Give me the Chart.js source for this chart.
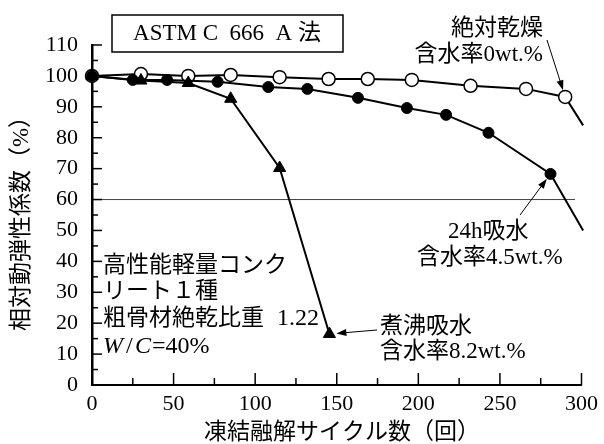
<!DOCTYPE html>
<html>
<head>
<meta charset="utf-8">
<script src="https://cdn.jsdelivr.net/npm/chart.js@4.4.1/dist/chart.umd.min.js"></script>
<style>body{margin:0;background:#fff}</style>
</head>
<body>
<canvas id="chart" width="604" height="444"></canvas>
<script>
// 絶対乾燥 (含水率0wt.%)
var dryX = [0, 30, 59, 85, 115, 145, 169, 196, 232, 266, 290, 301];
var dryY = [100, 100.6, 100, 100.3, 99.6, 99.0, 99.0, 98.7, 96.8, 95.8, 93.2, 84];
// 24h吸水 (含水率4.5wt.%)
var wetX = [0, 25, 46, 77, 108, 132, 163, 193, 217, 243, 281, 301];
var wetY = [100, 98.7, 98.7, 98.1, 96.4, 95.8, 92.9, 89.6, 87.4, 81.6, 68.3, 50];
// 煮沸吸水 (含水率8.2wt.%)
var boilX = [0, 30, 59, 85, 115, 145.5];
var boilY = [100, 98.5, 97.7, 92.6, 70.2, 16.5];

var xTicks = [0, 50, 100, 150, 200, 250, 300];
var yTicks = [0, 10, 20, 30, 40, 50, 60, 70, 80, 90, 100, 110];

var FONT = "'Liberation Serif', 'Noto Sans CJK JP', serif";

function pts(xs, ys) {
    return xs.map(function (x, i) { return { x: x, y: ys[i] }; });
}
function radii(n, r) {
    var a = [];
    for (var i = 0; i < n; i++) a.push(i === n - 1 ? 0 : r);
    return a;
}

function arrow(ctx, x1, y1, x2, y2) {
    var ang = Math.atan2(y2 - y1, x2 - x1);
    ctx.beginPath();
    ctx.moveTo(x1, y1);
    ctx.lineTo(x2 - 8 * Math.cos(ang), y2 - 8 * Math.sin(ang));
    ctx.lineWidth = 1;
    ctx.stroke();
    ctx.beginPath();
    ctx.moveTo(x2, y2);
    ctx.lineTo(x2 - 10 * Math.cos(ang) + 3.5 * Math.sin(ang), y2 - 10 * Math.sin(ang) - 3.5 * Math.cos(ang));
    ctx.lineTo(x2 - 10 * Math.cos(ang) - 3.5 * Math.sin(ang), y2 - 10 * Math.sin(ang) + 3.5 * Math.cos(ang));
    ctx.closePath();
    ctx.fill();
}

// arrow pointing at a data point, stopping at the marker edge
function arrowTo(ctx, xs, ys, x1, y1, px, py, r) {
    var tx = xs.getPixelForValue(px), ty = ys.getPixelForValue(py);
    var d = Math.hypot(tx - x1, ty - y1);
    arrow(ctx, x1, y1, tx - (tx - x1) / d * r, ty - (ty - y1) / d * r);
}

var decor = {
    id: 'decor',
    beforeDatasetsDraw: function (chart) {
        var ctx = chart.ctx, xs = chart.scales.x, ys = chart.scales.y;
        ctx.save();
        // 60% reference line
        ctx.lineWidth = 1;
        ctx.strokeStyle = '#444';
        ctx.beginPath();
        ctx.moveTo(xs.getPixelForValue(0), ys.getPixelForValue(60));
        ctx.lineTo(xs.getPixelForValue(296), ys.getPixelForValue(60));
        ctx.stroke();
        // inward ticks
        ctx.strokeStyle = '#000';
        ctx.lineWidth = 1.5;
        var x0 = xs.getPixelForValue(0), y0 = ys.getPixelForValue(0);
        for (var v = 5; v <= 110; v += 5) {
            var y = ys.getPixelForValue(v);
            ctx.beginPath();
            ctx.moveTo(x0, y);
            ctx.lineTo(x0 + (v % 10 === 0 ? 10 : 6), y);
            ctx.stroke();
        }
        for (var u = 25; u <= 300; u += 25) {
            var x = xs.getPixelForValue(u);
            ctx.beginPath();
            ctx.moveTo(x, y0);
            ctx.lineTo(x, y0 - (u % 50 === 0 ? 12 : 7));
            ctx.stroke();
        }
        ctx.restore();
    },
    afterDraw: function (chart) {
        var ctx = chart.ctx, xs = chart.scales.x, ys = chart.scales.y;
        ctx.save();
        ctx.fillStyle = '#000';
        ctx.strokeStyle = '#000';
        ctx.font = '23px ' + FONT;
        ctx.textBaseline = 'middle';

        // method box
        ctx.fillStyle = '#fff';
        ctx.fillRect(112, 15, 231, 37);
        ctx.fillStyle = '#000';
        ctx.lineWidth = 1.5;
        ctx.strokeRect(112, 15, 231, 37);
        ctx.textAlign = 'center';
        ctx.fillText('ASTM C  666  A 法', 227, 34);

        // axis titles
        ctx.fillText('凍結融解サイクル数（回）', 342, 433);
        ctx.save();
        ctx.translate(22, 218);
        ctx.rotate(-Math.PI / 2);
        ctx.fillText('相対動弾性係数（%）', 0, 0);
        ctx.restore();

        // series labels
        ctx.textAlign = 'right';
        ctx.fillText('絶対乾燥', 543, 29);
        ctx.fillText('含水率0wt.%', 543, 55);
        ctx.textAlign = 'left';
        ctx.fillText('24h吸水', 448, 232);
        ctx.fillText('含水率4.5wt.%', 417, 258);
        ctx.fillText('煮沸吸水', 380, 327);
        ctx.fillText('含水率8.2wt.%', 380, 352);

        // material note
        ctx.fillText('高性能軽量コンク', 103, 266);
        ctx.fillText('リート１種', 103, 292);
        ctx.fillText('粗骨材絶乾比重', 103, 319);
        ctx.font = '24px ' + FONT;
        ctx.fillText('1.22', 277, 319);
        ctx.font = 'italic 24px ' + FONT;
        ctx.fillText('W', 103, 347);
        ctx.fillText('C', 135, 347);
        ctx.font = '24px ' + FONT;
        ctx.fillText('/', 126, 347);
        ctx.fillText('=40%', 152, 347);

        // arrows
        arrowTo(ctx, xs, ys, 547, 40, dryX[10], dryY[10], 7);
        arrowTo(ctx, xs, ys, 520, 215, wetX[10], wetY[10], 6);
        arrowTo(ctx, xs, ys, 377, 330, boilX[5], boilY[5], 7);
        ctx.restore();
    }
};

var ctx = document.getElementById('chart').getContext('2d');
var chart = new Chart(ctx, {
    type: 'scatter',
    data: {
        datasets: [{
            label: '煮沸吸水',
            data: pts(boilX, boilY),
            showLine: true,
            borderColor: '#000',
            backgroundColor: '#000',
            borderWidth: 2,
            pointStyle: 'triangle',
            pointRadius: 7,
            pointBorderWidth: 1,
            clip: false
        }, {
            label: '24h吸水',
            data: pts(wetX, wetY),
            showLine: true,
            borderColor: '#000',
            backgroundColor: '#000',
            borderWidth: 2,
            pointRadius: radii(wetX.length, 5.5),
            pointBorderWidth: 1,
            clip: false
        }, {
            label: '絶対乾燥',
            data: pts(dryX, dryY),
            showLine: true,
            borderColor: '#000',
            backgroundColor: '#fff',
            borderWidth: 2,
            pointRadius: radii(dryX.length, 6.5),
            pointBorderWidth: 1.5,
            clip: false
        }]
    },
    options: {
        responsive: false,
        animation: false,
        layout: { padding: { top: 45, right: 21, left: 0, bottom: 0 } },
        plugins: { legend: { display: false }, tooltip: { enabled: false } },
        scales: {
            x: {
                type: 'linear', min: 0, max: 300,
                afterBuildTicks: function (s) { s.ticks = xTicks.map(function (v) { return { value: v }; }); },
                afterFit: function (s) { s.height = 59; },
                grid: { display: true, color: 'transparent', drawTicks: false },
                border: { display: true, color: '#000', width: 2 },
                ticks: { color: '#000', padding: 6, maxRotation: 0, font: { size: 22, family: FONT } }
            },
            y: {
                min: 0, max: 110,
                afterBuildTicks: function (s) { s.ticks = yTicks.map(function (v) { return { value: v }; }); },
                afterFit: function (s) { s.width = 92; },
                grid: { display: true, color: 'transparent', drawTicks: false },
                border: { display: true, color: '#000', width: 2.5 },
                ticks: { color: '#000', padding: 14, font: { size: 22, family: FONT } }
            }
        }
    },
    plugins: [decor]
});
</script>
</body>
</html>
